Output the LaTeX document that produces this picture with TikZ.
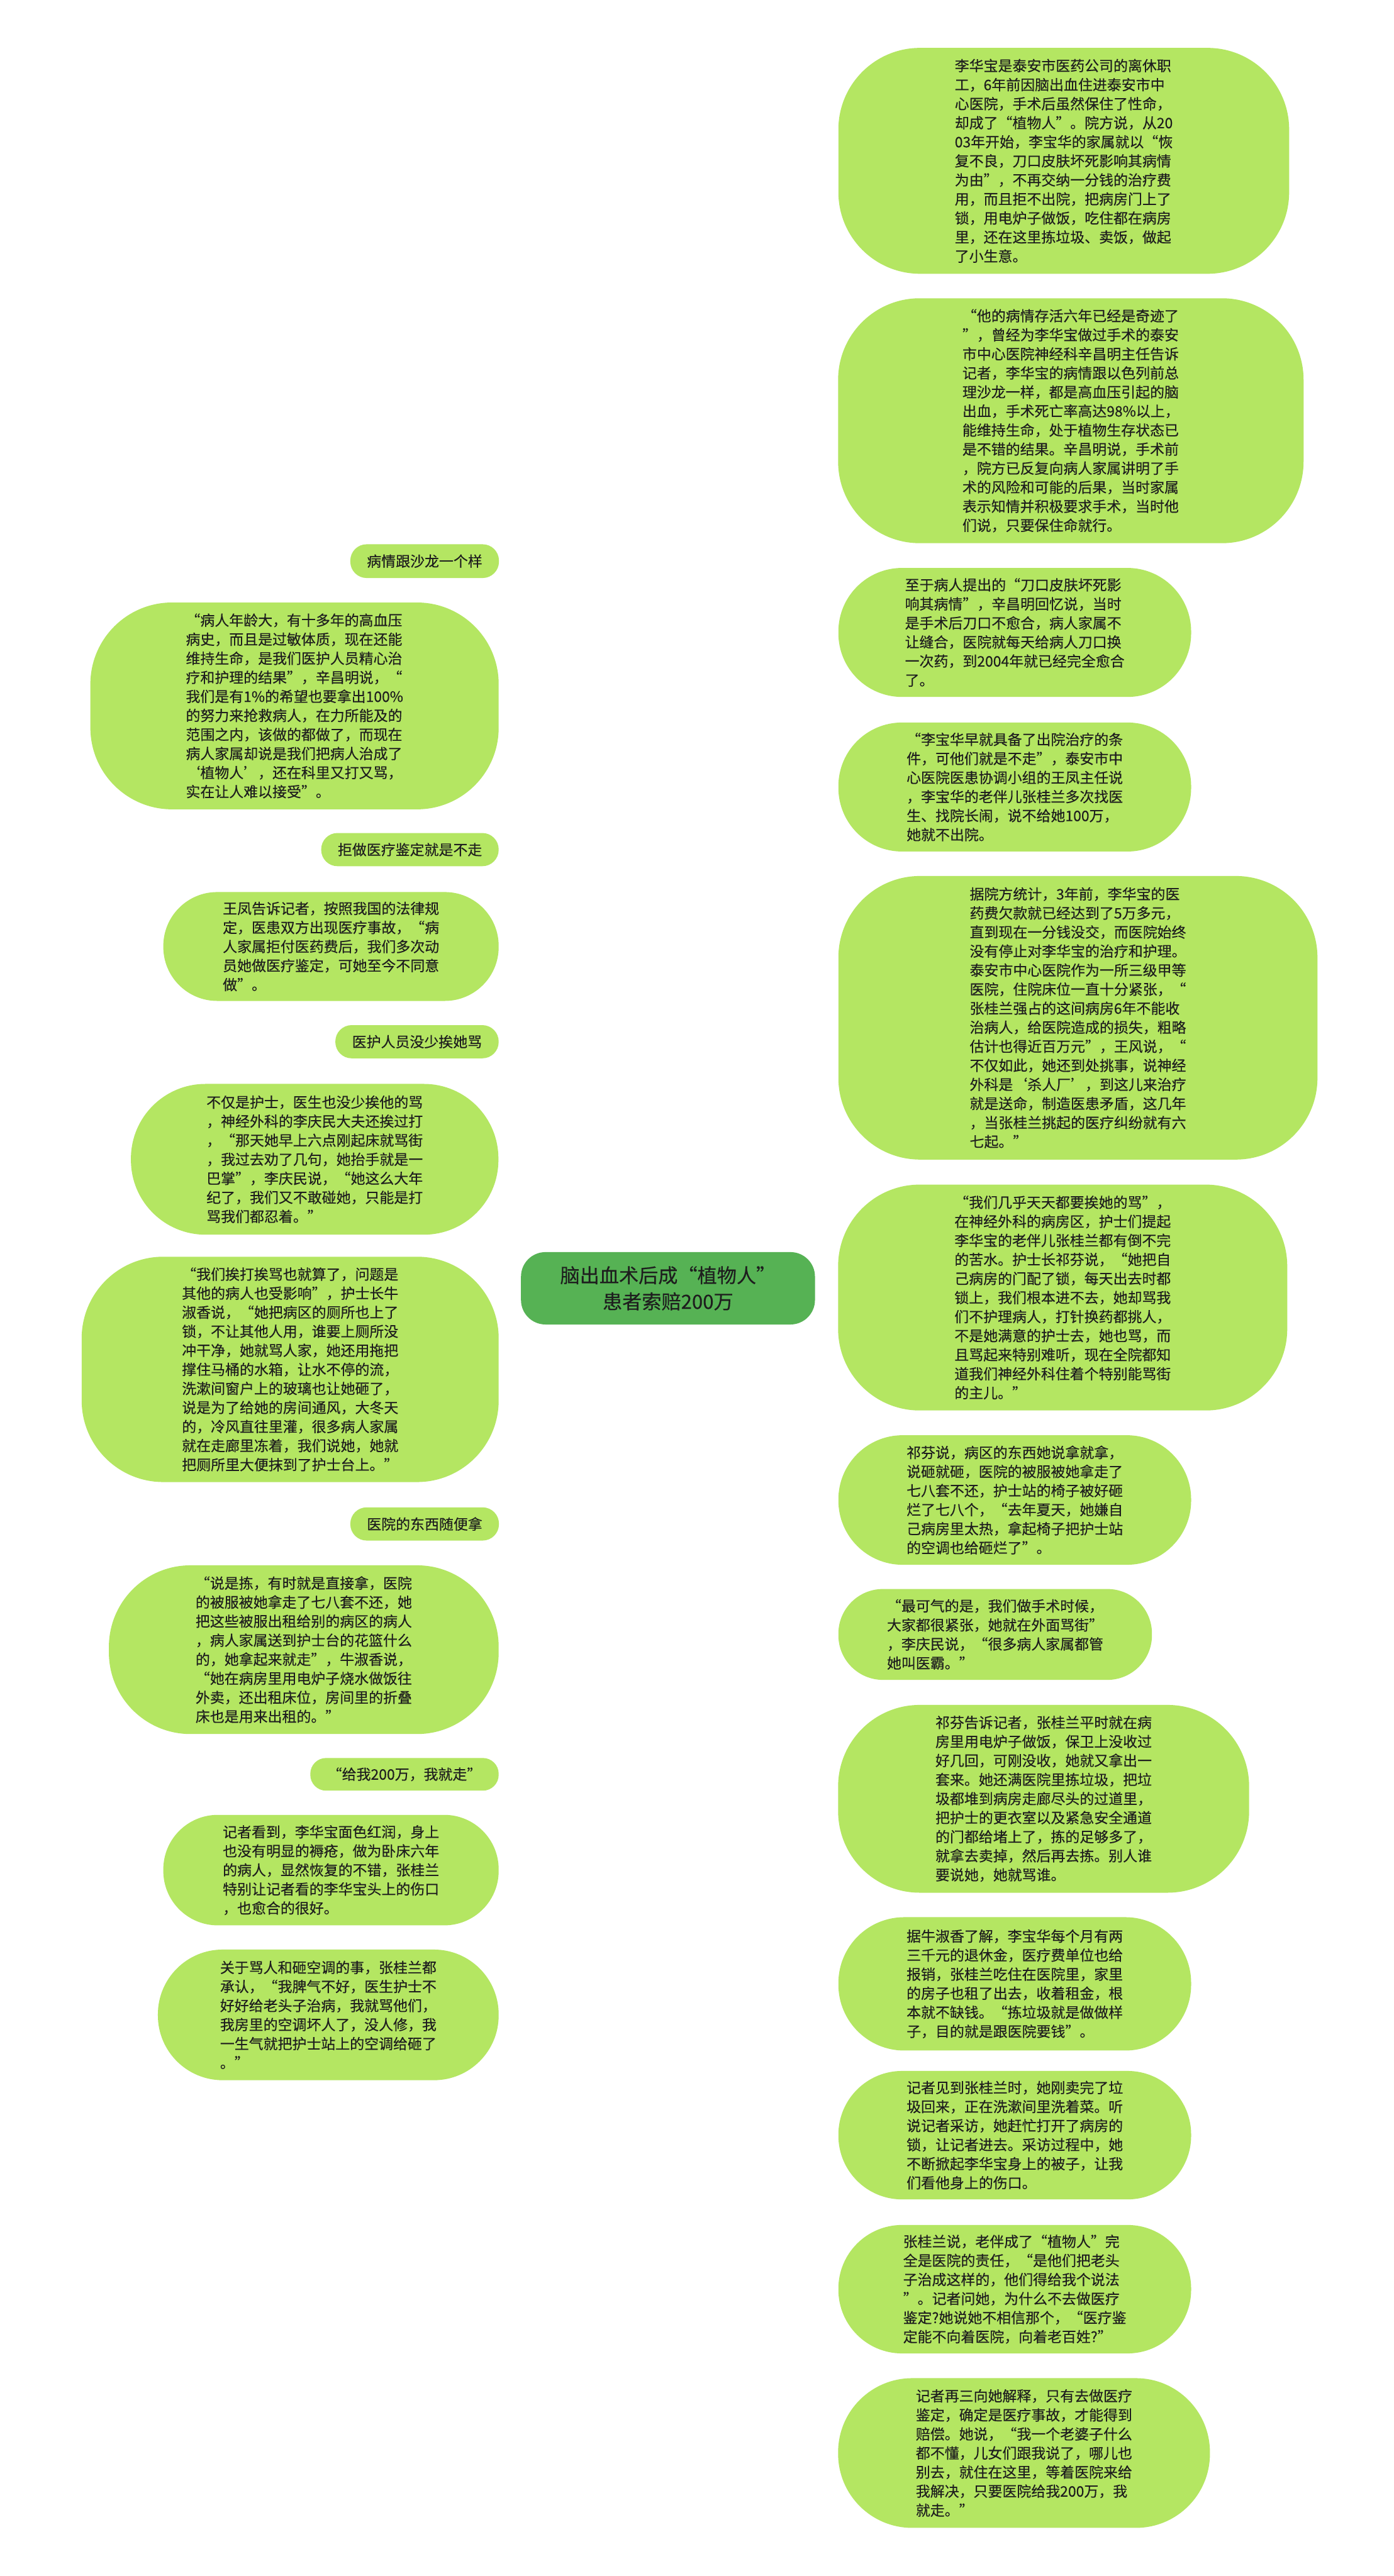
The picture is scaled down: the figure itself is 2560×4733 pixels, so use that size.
\documentclass[tikz,border=0pt]{standalone}
\usepackage{fontspec}
\setmainfont{Noto Sans CJK SC}
\newfontfamily\leaffont[FakeBold=0.35]{Noto Sans CJK SC}
\usetikzlibrary{calc}
\definecolor{leaffill}{RGB}{180,230,98}
\definecolor{rootfill}{RGB}{86,178,84}
\definecolor{linkcol}{RGB}{92,178,80}
\definecolor{txt}{RGB}{30,30,30}
\pgfdeclarelayer{bg}
\pgfsetlayers{bg,main}
\tikzset{
  leaf/.style={fill=leaffill, draw=none, inner sep=0pt, align=left, text=txt,
    font=\leaffont\fontsize{26.5}{35}\selectfont},
  root/.style={fill=rootfill, draw=none, inner sep=0pt, align=center, text=txt,
    minimum width=540pt, minimum height=133pt, rounded corners=45pt,
    font=\leaffont\fontsize{36}{48}\selectfont},
  link/.style={draw=linkcol, line width=3pt},
}
\newcommand\leafnode[7]{\node[leaf, minimum width=#4pt, minimum height=#5pt, rounded corners=#6pt] (#1) at (#2,#3) {#7};}
\begin{document}
\begin{tikzpicture}[x=1pt,y=-1pt]
\fill[white] (0,0) rectangle (2560,4733);
\useasboundingbox (0,0) rectangle (2560,4733);

\node[root] (ctr) at (1227,2367) {脑出血术后成“植物人”\\患者索赔200万};
\coordinate (rs) at ([xshift=173pt]ctr.center);
\coordinate (ls) at ([xshift=-173pt]ctr.center);

% right side
\leafnode{R1}{1954}{295.5}{828}{415}{150}{李华宝是泰安市医药公司的离休职\\工，6年前因脑出血住进泰安市中\\心医院，手术后虽然保住了性命，\\却成了“植物人”。院方说，从20\\03年开始，李宝华的家属就以“恢\\复不良，刀口皮肤坏死影响其病情\\为由”，不再交纳一分钱的治疗费\\用，而且拒不出院，把病房门上了\\锁，用电炉子做饭，吃住都在病房\\里，还在这里拣垃圾、卖饭，做起\\了小生意。}
\leafnode{R2}{1967}{773}{855}{450}{150}{“他的病情存活六年已经是奇迹了\\”，曾经为李华宝做过手术的泰安\\市中心医院神经科辛昌明主任告诉\\记者，李华宝的病情跟以色列前总\\理沙龙一样，都是高血压引起的脑\\出血，手术死亡率高达98\%以上，\\能维持生命，处于植物生存状态已\\是不错的结果。辛昌明说，手术前\\，院方已反复向病人家属讲明了手\\术的风险和可能的后果，当时家属\\表示知情并积极要求手术，当时他\\们说，只要保住命就行。}
\leafnode{R3}{1864}{1162}{648}{237}{117}{至于病人提出的“刀口皮肤坏死影\\响其病情”，辛昌明回忆说，当时\\是手术后刀口不愈合，病人家属不\\让缝合，医院就每天给病人刀口换\\一次药，到2004年就已经完全愈合\\了。}
\leafnode{R4}{1864}{1446}{648}{237}{117}{“李宝华早就具备了出院治疗的条\\件，可他们就是不走”，泰安市中\\心医院医患协调小组的王凤主任说\\，李宝华的老伴儿张桂兰多次找医\\生、找院长闹，说不给她100万，\\她就不出院。}
\leafnode{R5}{1980}{1870}{880}{521}{150}{据院方统计，3年前，李华宝的医\\药费欠款就已经达到了5万多元，\\直到现在一分钱没交，而医院始终\\没有停止对李华宝的治疗和护理。\\泰安市中心医院作为一所三级甲等\\医院，住院床位一直十分紧张，“\\张桂兰强占的这间病房6年不能收\\治病人，给医院造成的损失，粗略\\估计也得近百万元”，王风说，“\\不仅如此，她还到处挑事，说神经\\外科是‘杀人厂’，到这儿来治疗\\就是送命，制造医患矛盾，这几年\\，当张桂兰挑起的医疗纠纷就有六\\七起。”}
\leafnode{R6}{1952}{2384}{825}{415}{150}{“我们几乎天天都要挨她的骂”，\\在神经外科的病房区，护士们提起\\李华宝的老伴儿张桂兰都有倒不完\\的苦水。护士长祁芬说，“她把自\\己病房的门配了锁，每天出去时都\\锁上，我们根本进不去，她却骂我\\们不护理病人，打针换药都挑人，\\不是她满意的护士去，她也骂，而\\且骂起来特别难听，现在全院都知\\道我们神经外科住着个特别能骂街\\的主儿。”}
\leafnode{R7}{1864}{2756}{648}{238}{118}{祁芬说，病区的东西她说拿就拿，\\说砸就砸，医院的被服被她拿走了\\七八套不还，护士站的椅子被好砸\\烂了七八个，“去年夏天，她嫌自\\己病房里太热，拿起椅子把护士站\\的空调也给砸烂了”。}
\leafnode{R8}{1828}{3003}{576}{167}{82}{“最可气的是，我们做手术时候，\\大家都很紧张，她就在外面骂街”\\，李庆民说，“很多病人家属都管\\她叫医霸。”}
\leafnode{R9}{1917}{3305}{755}{345}{150}{祁芬告诉记者，张桂兰平时就在病\\房里用电炉子做饭，保卫上没收过\\好几回，可刚没收，她就又拿出一\\套来。她还满医院里拣垃圾，把垃\\圾都堆到病房走廊尽头的过道里，\\把护士的更衣室以及紧急安全通道\\的门都给堵上了，拣的足够多了，\\就拿去卖掉，然后再去拣。别人谁\\要说她，她就骂谁。}
\leafnode{R10}{1864}{3645}{648}{245}{121}{据牛淑香了解，李宝华每个月有两\\三千元的退休金，医疗费单位也给\\报销，张桂兰吃住在医院里，家里\\的房子也租了出去，收着租金，根\\本就不缺钱。“拣垃圾就是做做样\\子，目的就是跟医院要钱”。}
\leafnode{R11}{1864}{3923}{648}{236}{117}{记者见到张桂兰时，她刚卖完了垃\\圾回来，正在洗漱间里洗着菜。听\\说记者采访，她赶忙打开了病房的\\锁，让记者进去。采访过程中，她\\不断掀起李华宝身上的被子，让我\\们看他身上的伤口。}
\leafnode{R12}{1864}{4206}{648}{236}{117}{张桂兰说，老伴成了“植物人”完\\全是医院的责任，“是他们把老头\\子治成这样的，他们得给我个说法\\”。记者问她，为什么不去做医疗\\鉴定?她说她不相信那个，“医疗鉴\\定能不向着医院，向着老百姓?”}
\leafnode{R13}{1881}{4507}{683}{275}{136}{记者再三向她解释，只有去做医疗\\鉴定，确定是医疗事故，才能得到\\赔偿。她说，“我一个老婆子什么\\都不懂，儿女们跟我说了，哪儿也\\别去，就住在这里，等着医院来给\\我解决，只要医院给我200万，我\\就走。”}

% left side
\leafnode{L1}{780}{1031}{273}{62}{30}{病情跟沙龙一个样}
\leafnode{L2}{541}{1297}{750}{380}{150}{“病人年龄大，有十多年的高血压\\病史，而且是过敏体质，现在还能\\维持生命，是我们医护人员精心治\\疗和护理的结果”，辛昌明说，“\\我们是有1\%的希望也要拿出100\%\\的努力来抢救病人，在力所能及的\\范围之内，该做的都做了，而现在\\病人家属却说是我们把病人治成了\\‘植物人’，还在科里又打又骂，\\实在让人难以接受”。}
\leafnode{L3}{753}{1561}{326}{61}{30}{拒做医疗鉴定就是不走}
\leafnode{L4}{608}{1739}{616}{200}{99}{王凤告诉记者，按照我国的法律规\\定，医患双方出现医疗事故，“病\\人家属拒付医药费后，我们多次动\\员她做医疗鉴定，可她至今不同意\\做”。}
\leafnode{L5}{766}{1914}{300}{61}{30}{医护人员没少挨她骂}
\leafnode{L6}{578}{2130}{675}{277}{137}{不仅是护士，医生也没少挨他的骂\\，神经外科的李庆民大夫还挨过打\\，“那天她早上六点刚起床就骂街\\，我过去劝了几句，她抬手就是一\\巴掌”，李庆民说，“她这么大年\\纪了，我们又不敢碰她，只能是打\\骂我们都忍着。”}
\leafnode{L7}{533}{2516}{766}{414}{150}{“我们挨打挨骂也就算了，问题是\\其他的病人也受影响”，护士长牛\\淑香说，“她把病区的厕所也上了\\锁，不让其他人用，谁要上厕所没\\冲干净，她就骂人家，她还用拖把\\撑住马桶的水箱，让水不停的流，\\洗漱间窗户上的玻璃也让她砸了，\\说是为了给她的房间通风，大冬天\\的，冷风直往里灌，很多病人家属\\就在走廊里冻着，我们说她，她就\\把厕所里大便抹到了护士台上。”}
\leafnode{L8}{780}{2800}{273}{61}{30}{医院的东西随便拿}
\leafnode{L9}{558}{3031}{716}{310}{150}{“说是拣，有时就是直接拿，医院\\的被服被她拿走了七八套不还，她\\把这些被服出租给别的病区的病人\\，病人家属送到护士台的花篮什么\\的，她拿起来就走”，牛淑香说，\\“她在病房里用电炉子烧水做饭往\\外卖，还出租床位，房间里的折叠\\床也是用来出租的。”}
\leafnode{L10}{743}{3260}{346}{60}{29}{“给我200万，我就走”}
\leafnode{L11}{608}{3436}{616}{203}{100}{记者看到，李华宝面色红润，身上\\也没有明显的褥疮，做为卧床六年\\的病人，显然恢复的不错，张桂兰\\特别让记者看的李华宝头上的伤口\\，也愈合的很好。}
\leafnode{L12}{603}{3702}{626}{240}{119}{关于骂人和砸空调的事，张桂兰都\\承认，“我脾气不好，医生护士不\\好好给老头子治病，我就骂他们，\\我房里的空调坏人了，没人修，我\\一生气就把护士站上的空调给砸了\\。”}

\begin{pgfonlayer}{bg}
\foreach \i in {1,...,13}
  \draw[link] (rs) .. controls (rs |- R\i.west) .. (R\i.west);
\foreach \i in {1,...,12}
  \draw[link] (ls) .. controls (ls |- L\i.east) .. (L\i.east);
\end{pgfonlayer}
\end{tikzpicture}
\end{document}
